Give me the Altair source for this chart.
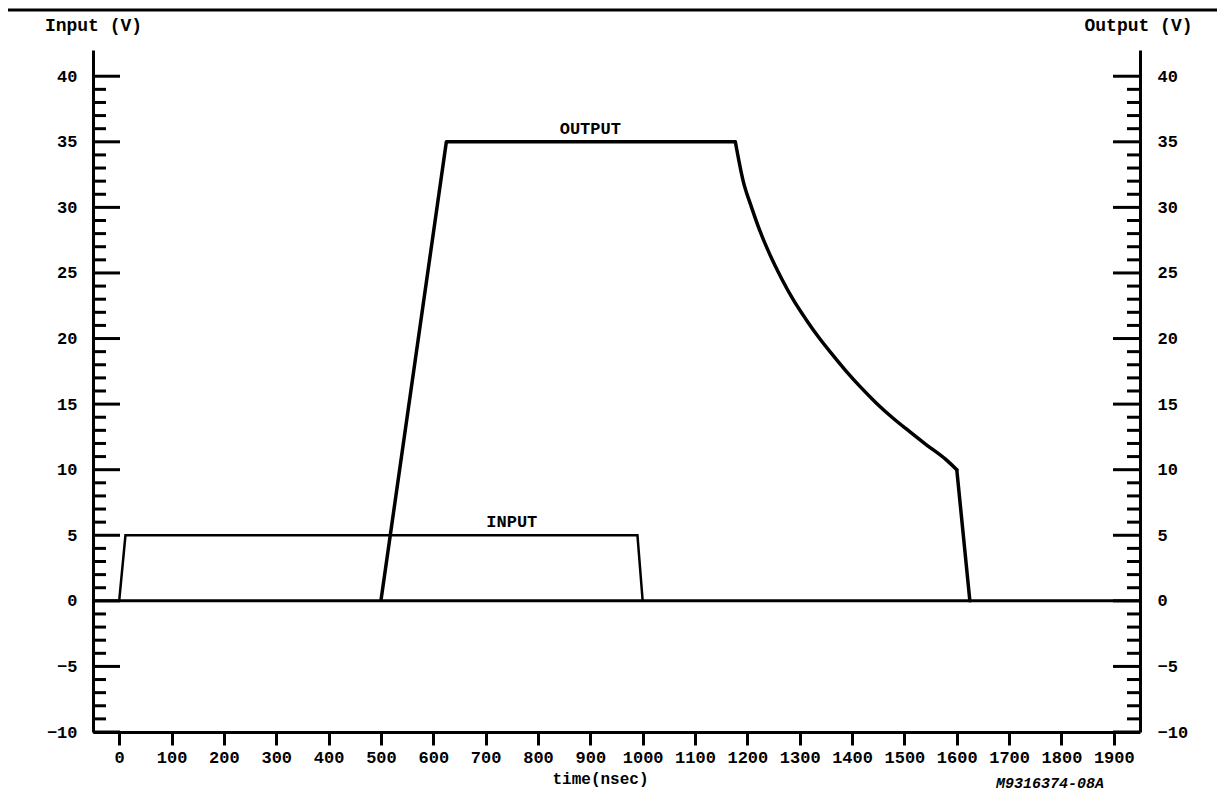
import altair as alt
import pandas as pd

# ---- data ----
input_t = [0, 12, 990, 1000]
input_v = [0, 5, 5, 0]

# output: linear rise, flat top, decaying curve, linear drop
rise_t = [500, 625, 1177]
rise_v = [0, 35, 35]
decay_t = [1177, 1192, 1208, 1224, 1243, 1265, 1287, 1313,
           1338, 1364, 1389, 1415, 1447, 1479, 1510, 1542, 1580, 1600]
decay_v = [35, 32.0, 30.0, 28.2, 26.4, 24.6, 23.0, 21.4,
           20.0, 18.7, 17.5, 16.35, 15.05, 13.9, 12.9, 11.9, 10.75, 10.0]
drop_t = [1600, 1625]
drop_v = [10.0, 0]

x_ticks = list(range(0, 2000, 100))
y_labels = list(range(-10, 45, 5))
y_minor = [v for v in range(-10, 41) if v % 5 != 0]
y_major = [v for v in range(-10, 41) if v % 5 == 0]

series_labels = ["OUTPUT", "INPUT"]
series_label_t = [900, 750]
series_label_v = [36.0, 6.0]

part_number = ["M9316374-08A"]

FONT = "Liberation Mono"
W, H = 1047, 682

xscale = alt.Scale(domain=[-50, 1950], nice=False, zero=False)
yscale = alt.Scale(domain=[-10, 42], nice=False, zero=False)

df_in = pd.DataFrame({"t": input_t, "v": input_v})
df_rise = pd.DataFrame({"t": rise_t, "v": rise_v})
df_decay = pd.DataFrame({"t": decay_t, "v": decay_v})
df_drop = pd.DataFrame({"t": drop_t, "v": drop_v})
df_lab = pd.DataFrame({"name": series_labels, "t": series_label_t, "v": series_label_v})
df_minor = pd.DataFrame({"v": y_minor})
df_major = pd.DataFrame({"v": y_major})
df_zero = pd.DataFrame({"v": [0]})
df_pn = pd.DataFrame({"txt": part_number})
df_one = pd.DataFrame({"k": [0]})

common_axis = dict(
    labelFont=FONT, labelFontSize=17, labelFontWeight="bold", labelColor="black",
    titleFont=FONT, titleFontWeight="bold", titleColor="black",
    domainColor="black", domainWidth=3, grid=False, labelFlush=False,
    labelOverlap=False,
)

x_axis = alt.Axis(
    values=x_ticks, tickSize=13, tickWidth=3, tickColor="black",
    labelPadding=4, format="d",
    title="time(nsec)", titleFontSize=16, titleX=507, titleY=46,
    titleAlign="center", titleBaseline="middle",
    **common_axis,
)

left_axis = alt.Axis(
    orient="left", values=y_labels, ticks=False, tickSize=0, labelPadding=16,
    format="d", title="Input (V)", titleFontSize=18, titleAngle=0,
    titleX=0, titleY=-25, titleAlign="center", titleBaseline="middle",
    **common_axis,
)

right_axis = alt.Axis(
    orient="right", values=y_labels, ticks=False, tickSize=0, labelPadding=17,
    format="d", title="Output (V)", titleFontSize=18, titleAngle=0,
    titleX=-2, titleY=-25, titleAlign="center", titleBaseline="middle",
    **common_axis,
)

X = alt.X("t:Q", scale=xscale, axis=x_axis)

zero_line = alt.Chart(df_zero).mark_rule(color="black", strokeWidth=3).encode(
    y=alt.Y("v:Q", scale=yscale, axis=None)
)

input_line = alt.Chart(df_in).mark_line(color="black", strokeWidth=2.5).encode(
    x=X, y=alt.Y("v:Q", scale=yscale, axis=left_axis),
)

rise_line = alt.Chart(df_rise).mark_line(
    color="black", strokeWidth=3.5, strokeJoin="round"
).encode(x=X, y=alt.Y("v:Q", scale=yscale, axis=right_axis))

decay_line = alt.Chart(df_decay).mark_line(
    color="black", strokeWidth=3.5, interpolate="monotone", strokeCap="round"
).encode(x=X, y=alt.Y("v:Q", scale=yscale, axis=None))

drop_line = alt.Chart(df_drop).mark_line(
    color="black", strokeWidth=3.5, strokeCap="round"
).encode(x=X, y=alt.Y("v:Q", scale=yscale, axis=None))

labels = alt.Chart(df_lab).mark_text(
    font=FONT, fontSize=17, fontWeight="bold", color="black", baseline="middle"
).encode(
    x=X, y=alt.Y("v:Q", scale=yscale, axis=None), text="name:N",
)

left_major = alt.Chart(df_major).mark_rule(color="black", strokeWidth=3).encode(
    y=alt.Y("v:Q", scale=yscale, axis=None), x=alt.value(0), x2=alt.value(27)
)
left_minor = alt.Chart(df_minor).mark_rule(color="black", strokeWidth=3).encode(
    y=alt.Y("v:Q", scale=yscale, axis=None), x=alt.value(0), x2=alt.value(13)
)
right_major = alt.Chart(df_major).mark_rule(color="black", strokeWidth=3).encode(
    y=alt.Y("v:Q", scale=yscale, axis=None), x=alt.value(W - 27), x2=alt.value(W)
)
right_minor = alt.Chart(df_minor).mark_rule(color="black", strokeWidth=3).encode(
    y=alt.Y("v:Q", scale=yscale, axis=None), x=alt.value(W - 13), x2=alt.value(W)
)

frame_left = alt.Chart(df_one).mark_rule(color="black", strokeWidth=3).encode(
    x=alt.value(-87), y=alt.value(-41), y2=alt.value(900)
)
frame_top = alt.Chart(df_one).mark_rule(color="black", strokeWidth=3).encode(
    y=alt.value(-40), x=alt.value(-88), x2=alt.value(1300)
)

pn_text = alt.Chart(df_pn).mark_text(
    font=FONT, fontSize=15, fontWeight="bold", fontStyle="italic",
    color="black", baseline="middle", align="center"
).encode(x=alt.value(957), y=alt.value(733), text="txt:N")

chart = alt.layer(
    input_line, rise_line, decay_line, drop_line, labels, zero_line,
    frame_left, frame_top,
    left_major, left_minor, right_major, right_minor,
    pn_text,
).resolve_axis(y="independent").properties(
    width=W, height=H,
    autosize=alt.AutoSizeParams(type="none"),
    padding={"left": 85, "top": 42, "right": 77, "bottom": 62},
    background="white",
).configure_view(stroke=None)

chart.save("out.html", embed_options={"renderer": "svg", "actions": False})
